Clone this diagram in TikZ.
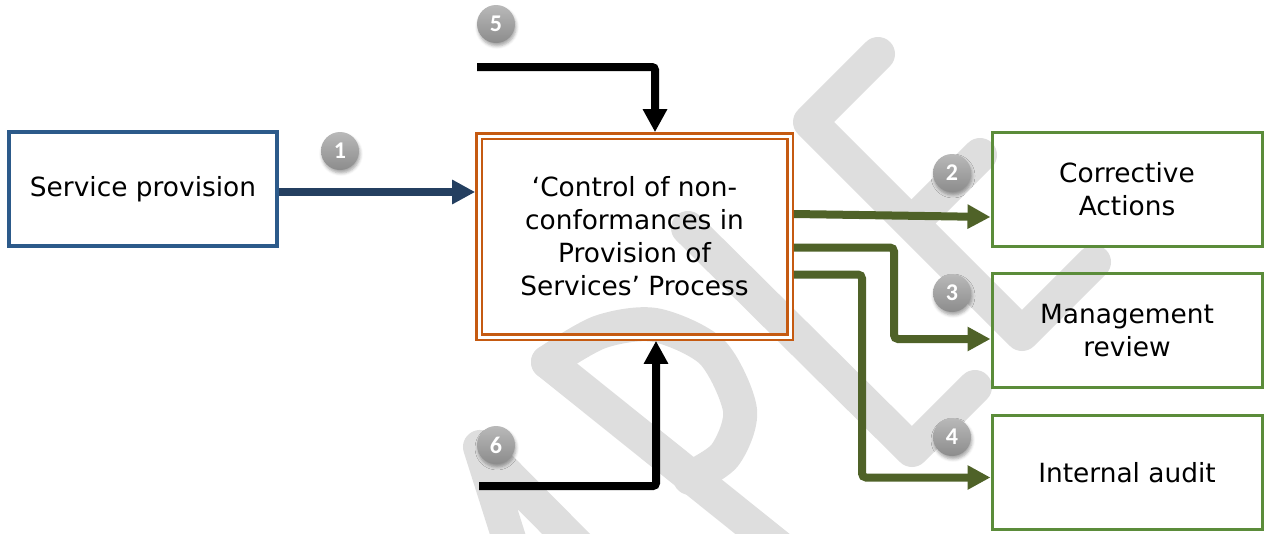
\documentclass[tikz,border=0pt]{standalone}
\usepackage{fontspec}
\setmainfont{DejaVu Sans}
\newfontfamily\numfont{Carlito}
\usetikzlibrary{arrows.meta,shadows.blur}
\definecolor{wmgray}{RGB}{222,222,222}
\definecolor{spblue}{RGB}{44,90,138}
\definecolor{navyline}{RGB}{36,63,96}
\definecolor{orng}{RGB}{197,90,17}
\definecolor{gbox}{RGB}{91,140,58}
\definecolor{garrow}{RGB}{79,98,40}
\definecolor{badgetop}{RGB}{185,185,185}
\definecolor{badgebot}{RGB}{140,140,140}
\newcommand{\bnum}[1]{{\numfont\bfseries\fontsize{24}{24}\selectfont #1}}
\tikzset{
  txt/.style={align=center, inner sep=0pt, font=\fontsize{26.4}{33}\selectfont},
  bluebox/.style={txt, draw=spblue, line width=3.2pt, minimum width=268pt, minimum height=114pt},
  greenbox/.style={txt, draw=gbox, line width=3pt, minimum width=270pt, minimum height=114pt},
  centrebox/.style={txt, draw=orng, line width=2.3pt, double=white, double distance=3pt,
    minimum width=311pt, minimum height=201pt, outer sep=3.8pt},
  navyarrow/.style={draw=navyline, line width=7.5pt, -{Triangle[width=23pt,length=23pt]}},
  blackarrow/.style={draw=black, line width=8pt, rounded corners=3pt, -{Triangle[width=23pt,length=23pt]}},
  greenarrow/.style={draw=garrow, line width=8pt, rounded corners=4pt, -{Triangle[width=23pt,length=23pt]}},
  badge/.style={circle, minimum size=38pt, inner sep=0pt, top color=badgetop, bottom color=badgebot,
    draw=none, text=white,
    blur shadow={shadow xshift=1pt, shadow yshift=-3pt, shadow blur radius=3pt, shadow opacity=35}},
  wmark/.style={draw=wmgray, line width=34pt, line cap=round, line join=round}
}
\begin{document}
\begin{tikzpicture}[x=1pt,y=-1pt]
\useasboundingbox (0,0) rectangle (1266,533);
% watermark
\draw[wmark] (878,54) -- (810,122) -- (1022,334) -- (1094,262);
\draw[wmark] (980,155) -- (913,222);
\draw[wmark] (688,228) -- (912,450) -- (975,387);
\draw[wmark] (512,548) -- (480,447) -- (580,548);
\draw[wmark] (548,362) -- (780,548);
\draw[wmark] plot[smooth] coordinates {(548,362) (600,332) (655,325) (712,352) (740,410) (725,455) (690,478)};
% boxes
\node[bluebox] (sp) at (143,189) {Service provision};
\node[centrebox] (ctr) at (634.5,236.5) {‘Control of non-\\conformances in\\Provision of\\Services’ Process};
\node[greenbox] (ca) at (1127,189) {Corrective\\Actions};
\node[greenbox] (mr) at (1127,330.5) {Management\\review};
\node[greenbox] (ia) at (1127,472.5) {Internal audit};
% arrow 1
\coordinate (a1) at ([yshift=-3pt]sp.east);
\draw[navyarrow] (a1) -- (a1 -| ctr.west);
% arrows 5 and 6
\coordinate (s5) at (477,67);
\coordinate (t5) at ([xshift=20.5pt]ctr.north);
\draw[blackarrow] (s5) -| (t5);
\coordinate (s6) at (479,486);
\coordinate (t6) at ([xshift=21.5pt]ctr.south);
\draw[blackarrow] (s6) -| (t6);
% green arrows
\coordinate (g2s) at ([yshift=22.5pt]ctr.east);
\coordinate (g2e) at ([yshift=-28pt]ca.west);
\draw[greenarrow] (g2s) -- (g2e);
\coordinate (g3s) at ([yshift=-11pt]ctr.east);
\coordinate (g3e) at ([yshift=-8.5pt]mr.west);
\coordinate (k3) at (894,0);
\draw[greenarrow] (g3s) -| (k3 |- g3e) -- (g3e);
\coordinate (g4s) at ([yshift=-38pt]ctr.east);
\coordinate (g4e) at ([yshift=-5pt]ia.west);
\coordinate (k4) at (862,0);
\draw[greenarrow] (g4s) -| (k4 |- g4e) -- (g4e);
% badges
\node[badge] (n1) at (340,151) {\bnum{1}};
\node[badge] (n2) at (952,173) {\bnum{2}};
\node[badge] (n3) at (952,293) {\bnum{3}};
\node[badge] (n4) at (952,437) {\bnum{4}};
\node[badge] (n5) at (496,24) {\bnum{5}};
\node[badge] (n6) at (496,445) {\bnum{6}};
\end{tikzpicture}
\end{document}
